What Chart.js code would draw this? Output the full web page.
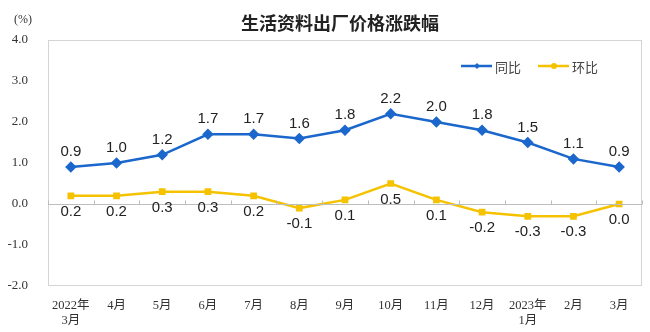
<!DOCTYPE html>
<html>
<head>
<meta charset="utf-8">
<script src="https://cdn.jsdelivr.net/npm/chart.js@4"></script>
<style>
  html, body { margin: 0; padding: 0; background: #fff; }
  #wrap { width: 650px; height: 332px; }
</style>
</head>
<body>
<div id="wrap"><canvas id="myChart" width="650" height="332"></canvas></div>
<script>
const labels = [
  ['2022年', '3月'], '4月', '5月', '6月', '7月', '8月', '9月',
  '10月', '11月', '12月', ['2023年', '1月'], '2月', '3月'
];
const yoy = [0.9, 1.0, 1.2, 1.7, 1.7, 1.6, 1.8, 2.2, 2.0, 1.8, 1.5, 1.1, 0.9];
const mom = [0.2, 0.2, 0.3, 0.3, 0.2, -0.1, 0.1, 0.5, 0.1, -0.2, -0.3, -0.3, 0.0];
const seriesNames = ['同比', '环比'];

const blue = '#1b67cc';
const yellow = '#f5c200';
const serif = '"Liberation Serif", "Noto Sans CJK SC", serif';
const sans = '"Liberation Sans", Arial, sans-serif';

// title, unit, legend, value labels, frame
const extras = {
  id: 'extras',
  afterDraw(chart) {
    const ctx = chart.ctx;
    const a = chart.chartArea;
    const y = chart.scales.y;
    const x = chart.scales.x;
    ctx.save();

    // frame
    ctx.strokeStyle = '#d4d4d4';
    ctx.lineWidth = 1;
    ctx.strokeRect(a.left + 0.5, a.top + 0.5, a.right - a.left - 1, a.bottom - a.top - 1);

    // zero line and small ticks
    const y0 = Math.round(y.getPixelForValue(0)) + 0.5;
    ctx.strokeStyle = '#bdbdbd';
    ctx.beginPath();
    ctx.moveTo(a.left, y0);
    ctx.lineTo(a.right, y0);
    for (let i = 0; i <= labels.length; i++) {
      const px = Math.round(x.getPixelForValue(i - 0.5)) + 0.5;
      ctx.moveTo(px, y0);
      ctx.lineTo(px, y0 - 4);
    }
    ctx.stroke();

    // title
    ctx.fillStyle = '#222';
    ctx.font = 'bold 18px "Noto Sans CJK SC", sans-serif';
    ctx.textAlign = 'center';
    ctx.textBaseline = 'middle';
    ctx.fillText('生活资料出厂价格涨跌幅', 340, 23);

    ctx.font = '12px ' + serif;
    ctx.fillStyle = '#333';
    ctx.fillText('(%)', 23, 20);

    // legend
    const items = [[blue, seriesNames[0], 'rectRot'], [yellow, seriesNames[1], 'circle']];
    let lx = 461;
    const ly = 66;
    ctx.font = '13px "Noto Sans CJK SC", sans-serif';
    ctx.textAlign = 'left';
    items.forEach(([c, t, ps]) => {
      ctx.strokeStyle = c;
      ctx.lineWidth = 2.5;
      ctx.beginPath();
      ctx.moveTo(lx, ly);
      ctx.lineTo(lx + 31, ly);
      ctx.stroke();
      ctx.fillStyle = c;
      Chart.helpers.drawPoint(ctx, { pointStyle: ps, radius: 3, rotation: 0, borderWidth: 0 }, lx + 16, ly);
      ctx.fillStyle = '#444';
      ctx.fillText(t, lx + 34, ly + 1);
      lx += 77;
    });

    // value labels
    ctx.font = '15px ' + sans;
    ctx.fillStyle = '#222';
    ctx.textAlign = 'center';
    chart.getDatasetMeta(0).data.forEach((p, i) => {
      ctx.fillText(yoy[i].toFixed(1), p.x, p.y - 15);
    });
    chart.getDatasetMeta(1).data.forEach((p, i) => {
      ctx.fillText(mom[i].toFixed(1), p.x, p.y + 16);
    });
    ctx.restore();
  }
};

const config = {
  type: 'line',
  data: {
    labels: labels,
    datasets: [{
      label: seriesNames[0],
      data: yoy,
      borderColor: blue,
      backgroundColor: blue,
      borderWidth: 2.5,
      pointStyle: 'rectRot',
      pointRadius: 4,
      tension: 0
    }, {
      label: seriesNames[1],
      data: mom,
      borderColor: yellow,
      backgroundColor: yellow,
      borderWidth: 2.5,
      pointStyle: 'rect',
      pointRadius: 3,
      tension: 0
    }]
  },
  options: {
    responsive: false,
    animation: false,
    layout: { padding: { top: 40, right: 8, left: 0, bottom: 0 } },
    plugins: { legend: { display: false }, tooltip: { enabled: false }, title: { display: false } },
    scales: {
      x: {
        offset: true,
        grid: { display: false },
        border: { display: false },
        ticks: {
          color: '#333',
          font: { family: serif, size: 12.5 },
          maxRotation: 0,
          autoSkip: false,
          padding: 4
        },
        afterFit(s) { s.height = 46; }
      },
      y: {
        min: -2, max: 4,
        grid: { display: false },
        border: { display: false },
        ticks: {
          stepSize: 1,
          color: '#333',
          font: { family: serif, size: 13 },
          padding: 12,
          callback: v => v.toFixed(1)
        },
        afterFit(s) { s.width = 48; }
      }
    }
  },
  plugins: [extras]
};

const myChart = new Chart(document.getElementById('myChart'), config);
</script>
</body>
</html>
